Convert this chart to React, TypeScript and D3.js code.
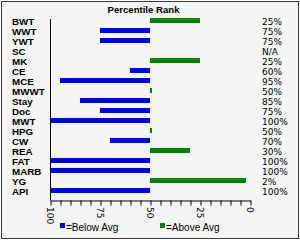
import { useEffect, useRef } from "react";
import * as d3 from "d3";

const traits = ["BWT", "WWT", "YWT", "SC", "MK", "CE", "MCE", "MWWT", "Stay", "Doc", "MWT", "HPG", "CW", "REA", "FAT", "MARB", "YG", "API"];
const rankLabels = ["25%", "75%", "75%", "N/A", "25%", "60%", "95%", "50%", "85%", "75%", "100%", "50%", "70%", "30%", "100%", "100%", "2%", "100%"];
// how far each bar runs past the 50 line
const belowAvg = [0, 25, 25, 0, 0, 10, 45, 0, 35, 25, 50, 0, 20, 0, 50, 50, 0, 50];
const aboveAvg = [25, 0, 0, 0, 25, 0, 0, 1, 0, 0, 0, 1, 0, 20, 0, 0, 48, 0];
const tickValues = d3.range(0, 101, 5);
const labelTicks = [100, 75, 50, 25, 0];

const BLUE = "#0000f0";
const GREEN = "#008000";

export default function App() {
  const ref = useRef<SVGSVGElement>(null);

  useEffect(() => {
    const svg = d3.select(ref.current!);
    svg.selectAll("*").remove();
    const w = 300,
      h = 240;

    const x = d3.scaleLinear().domain([100, 0]).range([50, 250]);
    const y = d3
      .scaleBand()
      .domain(traits)
      .range([15.5, 195.5])
      .paddingInner(0.5)
      .paddingOuter(0.25);

    svg.append("rect").attr("width", w).attr("height", h).attr("fill", "#ffffff");
    svg
      .append("rect")
      .attr("x", 1.5)
      .attr("y", 1.5)
      .attr("width", w - 3)
      .attr("height", h - 3)
      .attr("fill", "#f4f4f4")
      .attr("stroke", "#3a3a3a");

    svg
      .append("text")
      .attr("x", 143.5)
      .attr("y", 13)
      .attr("text-anchor", "middle")
      .attr("font-family", "Liberation Sans, Arial, sans-serif")
      .attr("font-weight", "bold")
      .attr("font-size", 9.6)
      .text("Percentile Rank");

    const rows = traits.map((t, i) => ({ t, below: belowAvg[i], above: aboveAvg[i], label: rankLabels[i] }));

    svg
      .append("g")
      .selectAll("rect")
      .data(rows.filter((d) => d.below > 0))
      .join("rect")
      .attr("x", (d) => x(50 + d.below))
      .attr("y", (d) => y(d.t)!)
      .attr("width", (d) => x(50) - x(50 + d.below))
      .attr("height", y.bandwidth())
      .attr("fill", BLUE);

    svg
      .append("g")
      .selectAll("rect")
      .data(rows.filter((d) => d.above > 0))
      .join("rect")
      .attr("x", x(50))
      .attr("y", (d) => y(d.t)!)
      .attr("width", (d) => x(50 - d.above) - x(50))
      .attr("height", y.bandwidth())
      .attr("fill", GREEN);

    svg
      .append("g")
      .attr("font-family", "Liberation Sans, Arial, sans-serif")
      .attr("font-weight", "bold")
      .attr("font-size", 9.8)
      .selectAll("text")
      .data(rows)
      .join("text")
      .attr("x", 12)
      .attr("y", (d) => y(d.t)! + y.bandwidth() / 2 + 4.5)
      .text((d) => d.t);

    svg
      .append("g")
      .attr("font-family", "DejaVu Sans, Verdana, sans-serif")
      .attr("font-size", 9)
      .selectAll("text")
      .data(rows)
      .join("text")
      .attr("x", 262)
      .attr("y", (d) => y(d.t)! + y.bandwidth() / 2 + 4.5)
      .text((d) => d.label);

    // vertical axis line at 100
    svg
      .append("line")
      .attr("x1", x(100) + 0.5)
      .attr("x2", x(100) + 0.5)
      .attr("y1", 19)
      .attr("y2", 200.5)
      .attr("stroke", "#000");

    const ax = svg
      .append("g")
      .attr("transform", `translate(0.5,200.5)`)
      .call(
        d3
          .axisBottom(x)
          .tickValues(tickValues)
          .tickSize(5)
          .tickSizeOuter(0)
          .tickFormat(() => "")
      );
    ax.select(".domain").attr("stroke", "#000");
    ax.selectAll(".tick line").attr("stroke", "#000");

    svg
      .append("g")
      .attr("font-family", "DejaVu Sans, Verdana, sans-serif")
      .attr("font-size", 9)
      .selectAll("text")
      .data(labelTicks)
      .join("text")
      .attr("transform", (d) => `translate(${x(d) + 0.5},207) rotate(90)`)
      .attr("dy", "0.35em")
      .text((d) => String(d));

    const legend = [
      { label: "=Below Avg", color: BLUE, x0: 60 },
      { label: "=Above Avg", color: GREEN, x0: 160 },
    ];
    const lg = svg.append("g").selectAll("g").data(legend).join("g");
    lg.append("rect")
      .attr("x", (d) => d.x0)
      .attr("y", 223)
      .attr("width", 5)
      .attr("height", 5)
      .attr("fill", (d) => d.color);
    lg.append("text")
      .attr("x", (d) => d.x0 + 6)
      .attr("y", 231)
      .attr("font-family", "Liberation Sans, Arial, sans-serif")
      .attr("font-size", 10)
      .text((d) => d.label);
  }, []);

  return <svg ref={ref} width={300} height={240} style={{ position: "absolute", left: 0, top: 0 }} />;
}
